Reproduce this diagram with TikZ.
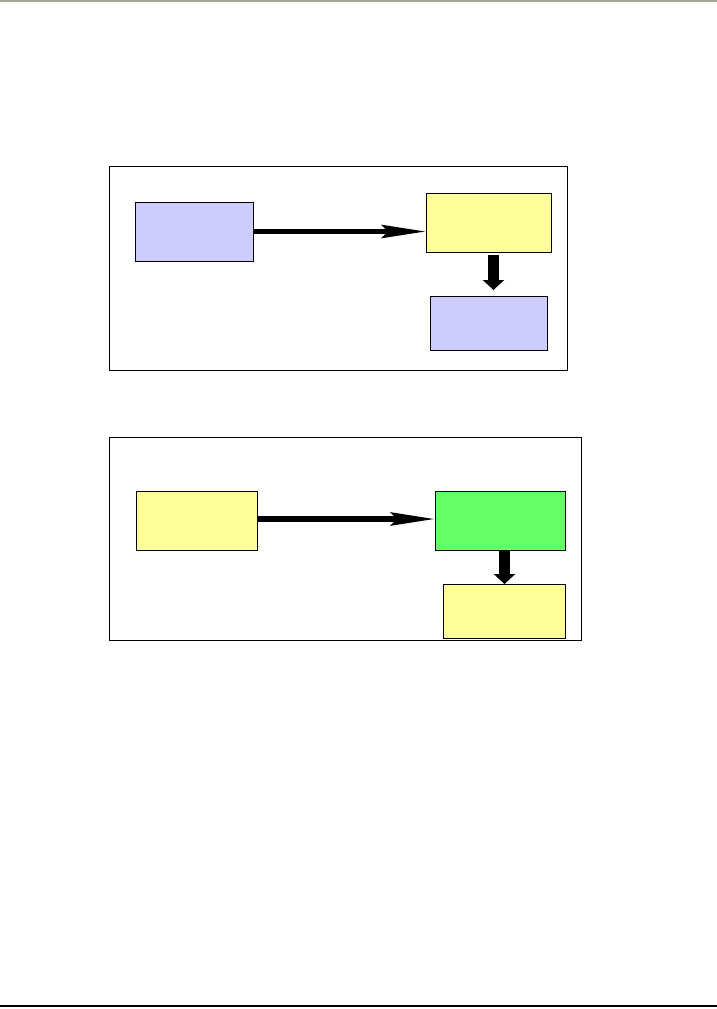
\documentclass[tikz,border=0pt]{standalone}
\usepackage{xcolor}
\usepackage{tikz}
\usetikzlibrary{arrows.meta}
\definecolor{PaleBlue}{RGB}{204,204,255}
\definecolor{PaleYellow}{RGB}{255,255,153}
\definecolor{BrightGreen}{RGB}{102,255,102}
\definecolor{BarGray}{RGB}{168,168,152}

\begin{document}
\begin{tikzpicture}[x=0.02cm, y=-0.02cm,
  every node/.style={inner sep=0pt, outer sep=0pt},
  frame/.style={draw=black, line width=0.02cm},
  box/.style={draw=black, line width=0.02cm, minimum height=1.18cm},
  flow/.style={draw=black, line width=0.11cm, -{Stealth[length=0.88cm, width=0.26cm, inset=0.12cm]}},
  drop/.style={draw=black, line width=0.22cm, -{Triangle[length=0.2cm, width=0.42cm]}}
]
\useasboundingbox (0,0) rectangle (717,1009);
\fill[BarGray] (0,0) rectangle (717,2.2);
\fill[black] (0,1005.3) rectangle (717,1007.3);

% upper panel
\node[frame, minimum width=9.18cm, minimum height=4.1cm] (panelA) at (338.5,268.5) {};
\node[box, fill=PaleBlue, minimum width=2.38cm] (srcA) at (194.5,231.5) {};
\node[box, fill=PaleYellow, minimum width=2.52cm] (midA) at (489,222.5) {};
\node[box, fill=PaleBlue, minimum width=2.36cm, minimum height=1.08cm] (outA) at (489,323) {};

\draw[flow] (srcA.east) -- (srcA.east -| midA.west);
\draw[drop, shorten <=0.06cm, shorten >=0.12cm] ([xshift=0.09cm]midA.south) -- ([xshift=0.09cm]outA.north);

% lower panel
\node[frame, minimum width=9.46cm, minimum height=4.08cm] (panelB) at (345.5,539) {};
\node[box, fill=PaleYellow, minimum width=2.44cm] (srcB) at (197,520.5) {};
\node[box, fill=BrightGreen, minimum width=2.62cm] (midB) at (500.5,520.5) {};
\node[box, fill=PaleYellow, minimum width=2.46cm, minimum height=1.08cm] (outB) at (504.5,611) {};

\draw[flow] ([yshift=0.03cm]srcB.east) -- ([yshift=0.03cm]midB.west);
\draw[drop] (outB.north |- midB.south) -- (outB.north);
\end{tikzpicture}
\end{document}
